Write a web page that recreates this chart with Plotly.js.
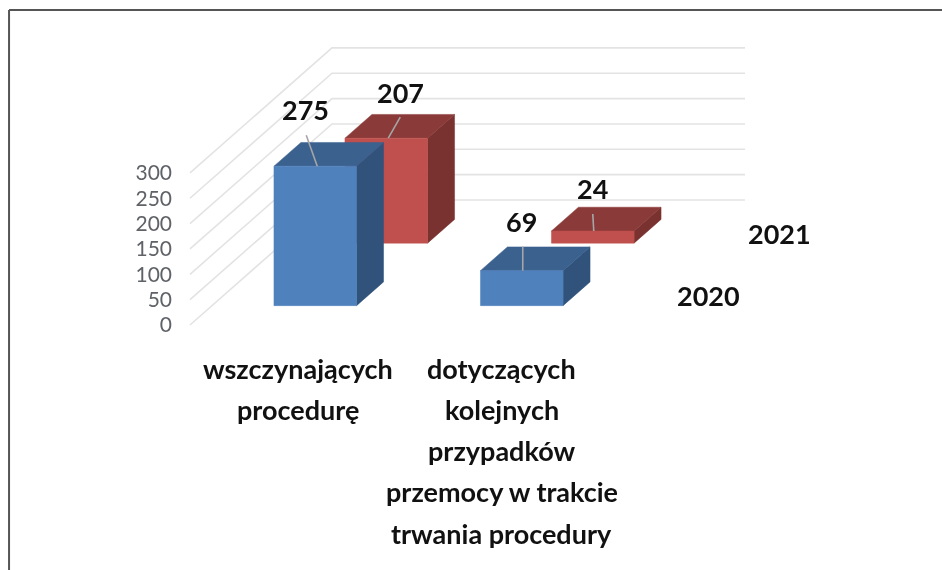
<!DOCTYPE html>
<html>
<head>
<meta charset="utf-8">
<script src="https://cdn.plot.ly/plotly-3.0.1.min.js"></script>
<style>
html,body{margin:0;padding:0;background:#fff;overflow:hidden}
#chart{width:942px;height:570px;filter:blur(0.6px)}
</style>
</head>
<body>
<div id="chart"></div>
<script>
// Data
var categoryLines = [
  ["wszczynających", "procedurę"],
  ["dotyczących", "kolejnych", "przypadków", "przemocy w trakcie", "trwania procedury"]
];
var seriesNames = ["2020", "2021"];
var values2020 = [275, 69];
var values2021 = [207, 24];
var axisTicks = [0, 50, 100, 150, 200, 250, 300];

// Colours per series: front, top, side
var faceColors = [
  ["#4F81BD", "#3B618F", "#30527B"],
  ["#C0504D", "#8A3A38", "#7A3230"]
];

// Oblique projection: category c, depth d (0..1), value v -> axis coordinates
var PX_PER_CAT = 206.5, PX_PER_VAL = 0.507;
var DEPTH_X = 142 / PX_PER_CAT, DEPTH_V = 125 / PX_PER_VAL;
function px(c, d) { return c + d * DEPTH_X; }
function py(v, d) { return v + d * DEPTH_V; }

var traces = [];
function poly(pts, color) {
  traces.push({
    type: "scatter", mode: "lines", fill: "toself", fillcolor: color,
    x: pts.map(function (p) { return px(p[0], p[1]); }),
    y: pts.map(function (p) { return py(p[2], p[1]); }),
    line: { color: color, width: 0.5 }, hoverinfo: "skip", showlegend: false
  });
}
function gridLine(pts, color) {
  traces.push({
    type: "scatter", mode: "lines",
    x: pts.map(function (p) { return px(p[0], p[1]); }),
    y: pts.map(function (p) { return py(p[2], p[1]); }),
    line: { color: color, width: 1.6 }, hoverinfo: "skip", showlegend: false
  });
}

// Walls
var nCat = categoryLines.length;
axisTicks.forEach(function (t) {
  gridLine([[0, 0, t], [0, 1, t], [nCat, 1, t]], "#e3e3e3");
});

var HALF_W = 0.2, HALF_D = 0.095;
var seriesValues = [values2020, values2021];
function drawBar(ci, si) {
  var v = seriesValues[si][ci], c = ci + 0.5, dc = (si + 0.5) / 2;
  var l = c - HALF_W, r = c + HALF_W, f = dc - HALF_D, b = dc + HALF_D;
  var col = faceColors[si];
  poly([[r, f, 0], [r, b, 0], [r, b, v], [r, f, v], [r, f, 0]], col[2]);
  poly([[l, f, v], [r, f, v], [r, b, v], [l, b, v], [l, f, v]], col[1]);
  poly([[l, f, 0], [r, f, 0], [r, f, v], [l, f, v], [l, f, 0]], col[0]);
}
// Back series first, so the front series overlaps it
[1, 0].forEach(function (si) {
  [0, 1].forEach(function (ci) { drawBar(ci, si); });
});

// Data labels with leader lines, placed relative to the middle of each bar's front top edge
var labelShift = [[[-10, 57], [0, 49]], [[14, 46], [0, 42]]];
var leaderStart = [[[-9, 31], [1, 24]], [[14, 21], [0, 17]]];
var leaderEnd = [[2, 0], [1, 0]];
var annotations = [];
var baseFont = { family: "Lato, sans-serif", color: "#111111", size: 27, weight: 700 };
[0, 1].forEach(function (si) {
  [0, 1].forEach(function (ci) {
    var v = seriesValues[si][ci], c = ci + 0.5, d = (si + 0.5) / 2 - HALF_D;
    var ls = leaderStart[si][ci], le = leaderEnd[ci];
    traces.push({
      type: "scatter", mode: "lines",
      x: [px(c, d) + ls[0] / PX_PER_CAT, px(c, d) + le[0] / PX_PER_CAT],
      y: [py(v, d) + ls[1] / PX_PER_VAL, py(v, d) + le[1] / PX_PER_VAL],
      line: { color: "#a6a6a6", width: 1.6 }, hoverinfo: "skip", showlegend: false
    });
    annotations.push({
      x: px(c, d), y: py(v, d), xref: "x", yref: "y", text: String(v), showarrow: false,
      xshift: labelShift[si][ci][0], yshift: labelShift[si][ci][1],
      font: baseFont, xanchor: "center", yanchor: "middle"
    });
  });
});

// Series names along the depth axis
seriesNames.forEach(function (name, si) {
  var d = (si + 0.5) / 2;
  annotations.push({
    x: px(nCat, d), y: py(0, d), xref: "x", yref: "y", text: name, showarrow: false,
    xshift: 70, yshift: -2, font: baseFont, xanchor: "center", yanchor: "middle"
  });
});

// Category labels, one annotation per line to hold the wide line pitch
categoryLines.forEach(function (lines, ci) {
  lines.forEach(function (line, li) {
    annotations.push({
      x: px(ci + 0.5, 0), y: py(0, 0), xref: "x", yref: "y", text: line, showarrow: false,
      xshift: ci === 0 ? 5 : 2, yshift: -43 - 41.3 * li,
      font: baseFont, xanchor: "center", yanchor: "middle"
    });
  });
});

var W = 942, H = 570, X0 = 190, Y0 = 325;
var layout = {
  width: W, height: H,
  margin: { l: 0, r: 0, t: 0, b: 0 },
  paper_bgcolor: "#ffffff", plot_bgcolor: "rgba(0,0,0,0)",
  showlegend: false,
  xaxis: {
    range: [-X0 / PX_PER_CAT, (W - X0) / PX_PER_CAT],
    visible: false, fixedrange: true
  },
  yaxis: {
    range: [(Y0 - H) / PX_PER_VAL, Y0 / PX_PER_VAL],
    anchor: "free", position: 172 / W,
    tickmode: "array", tickvals: axisTicks, ticktext: axisTicks.map(String),
    showgrid: false, zeroline: false, showline: false, ticks: "",
    tickfont: { family: "Lato, sans-serif", size: 21, color: "#5f6267" },
    fixedrange: true
  },
  annotations: annotations,
  shapes: [
    { type: "line", xref: "paper", yref: "paper", x0: 0.0096, x1: 1, y0: 0.9825, y1: 0.9825, line: { color: "#555555", width: 2 } },
    { type: "line", xref: "paper", yref: "paper", x0: 0.0096, x1: 0.0096, y0: 0, y1: 0.9825, line: { color: "#555555", width: 2 } }
  ]
};
Plotly.newPlot("chart", traces, layout, { displayModeBar: false, staticPlot: true });
</script>
</body>
</html>
